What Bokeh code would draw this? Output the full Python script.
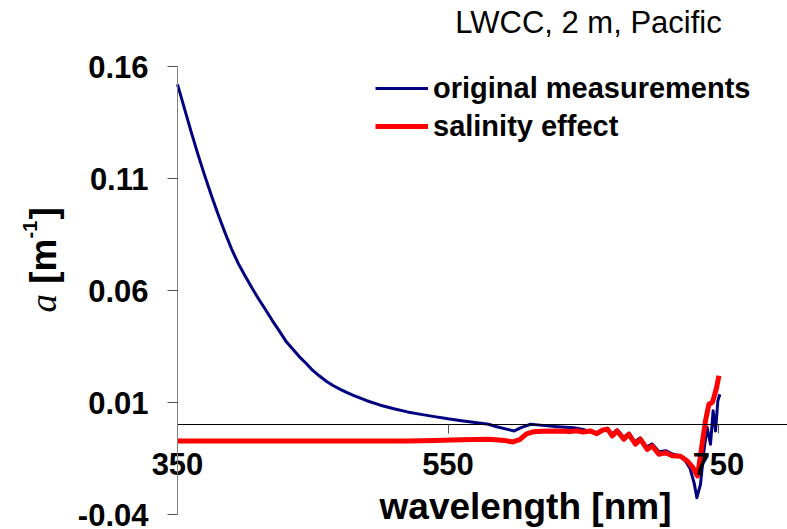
import math
from bokeh.plotting import figure
from bokeh.models import (LinearAxis, FixedTicker, Label, Legend, LegendItem, Range1d)
from bokeh.embed import file_html
from bokeh.resources import INLINE

# ---- data ----
wl_orig = [350, 355, 360, 365, 370, 375, 380, 385, 390, 395,
           400, 405, 410, 415, 420, 425, 430, 435, 440, 445,
           450, 455, 460, 465, 470, 475, 480, 490, 500, 510,
           520, 530, 540, 550, 560, 570, 580, 586, 594, 599,
           604, 611, 618, 631, 643,
           650, 655, 660, 664, 668, 671, 675, 680, 684, 688,
           692, 697, 701, 706, 711, 716, 722, 726, 729, 732,
           734, 736.7, 739.2, 741.6, 744.1, 746, 747.8, 749.5, 751]
a_orig = [0.1520, 0.1415, 0.1310, 0.1210, 0.1115, 0.1025, 0.0940, 0.0860, 0.0785, 0.0720,
          0.0665, 0.0612, 0.0562, 0.0515, 0.0467, 0.0422, 0.0375, 0.0340, 0.0305, 0.0275,
          0.0243, 0.0218, 0.0195, 0.0176, 0.0160, 0.0145, 0.0132, 0.0108, 0.0088, 0.0072,
          0.0058, 0.0047, 0.0037, 0.0027, 0.0019, 0.0011, 0.0003, -0.0008, -0.0020, -0.0027,
          -0.0012, 0.0003, -0.0001, -0.0008, -0.0013,
          -0.0020, -0.0030, -0.0035, -0.0022, -0.0015, -0.0040, -0.0022, -0.0055, -0.0036, -0.0076,
          -0.0058, -0.0098, -0.0085, -0.0120, -0.0115, -0.0130, -0.0140, -0.0165, -0.0195, -0.0260,
          -0.0325, -0.0265, -0.0116, -0.0012, -0.0086, 0.0063, -0.0027, 0.0107, 0.0137]

wl_sal = [350, 520, 540, 560, 580, 592, 598, 603, 608, 613,
          620, 630, 640, 645, 650, 655, 660, 664, 668, 671.4,
          675, 680, 683.7, 688.6, 692.3, 697.3, 701, 705.9, 710.8, 715.8,
          721.9, 726.8, 731, 734.5, 737.9, 740.4, 742.9, 745.4, 746.6, 748.6,
          750.3]
a_sal = [-0.0072, -0.0072, -0.0070, -0.0066, -0.0064, -0.0070, -0.0076, -0.0066, -0.0040, -0.0031,
         -0.0028, -0.0027, -0.0030, -0.0026, -0.0032, -0.0027, -0.0039, -0.0024, -0.0019, -0.0049,
         -0.0027, -0.0064, -0.0042, -0.0086, -0.0064, -0.0109, -0.0094, -0.0131, -0.0124, -0.0138,
         -0.0140, -0.0160, -0.0190, -0.0228, -0.0086, 0.0018, 0.0092, 0.0100, 0.0122, 0.0167,
         0.0219]

x_ticks = [350, 550, 750]
x_tick_labels = ["350", "550", "750"]
y_ticks = [-0.04, 0.01, 0.06, 0.11, 0.16]
y_tick_labels = ["-0.04", "0.01", "0.06", "0.11", "0.16"]

series_names = ["original measurements", "salinity effect"]
title_text = "LWCC, 2 m, Pacific"
x_title = "wavelength [nm]"

SANS = "Liberation Sans"
SERIF = "Liberation Serif"

W, H = 787, 529
# plot box in pixels: y axis at px 177, 350..750 nm -> 177..718 px; -0.04..0.16 -> 514..66 px
PX_PER_NM = (718 - 177) / 400.0
PX_PER_UNIT = (514 - 66) / 0.20
x0 = x_ticks[0] - 177 / PX_PER_NM
x1 = x_ticks[0] + (W - 177) / PX_PER_NM
y1 = y_ticks[-1] + 66 / PX_PER_UNIT
y0 = y_ticks[0] - (H - 514) / PX_PER_UNIT

p = figure(width=W, height=H, output_backend="svg", toolbar_location=None, title=None,
           x_range=Range1d(x0, x1), y_range=Range1d(y0, y1),
           x_axis_location=None, y_axis_location=None,
           min_border_left=0, min_border_right=0, min_border_top=0, min_border_bottom=0)
p.outline_line_color = None
p.background_fill_color = "white"
p.border_fill_color = "white"
p.grid.visible = False

def style_axis(ax, tick_out, standoff, line_color):
    ax.axis_line_color = line_color
    ax.major_tick_line_color = "#505050"
    ax.major_tick_out = tick_out
    ax.major_tick_in = 0
    ax.minor_tick_out = 0
    ax.minor_tick_in = 0
    ax.major_label_standoff = standoff
    ax.major_label_text_font = SANS
    ax.major_label_text_font_style = "bold"
    ax.major_label_text_font_size = "31px"
    ax.major_label_text_color = "black"

yax = LinearAxis(fixed_location=x_ticks[0], ticker=FixedTicker(ticks=y_ticks),
                 bounds=(y_ticks[0], y_ticks[-1]))
yax.major_label_overrides = {t: l for t, l in zip(y_ticks, y_tick_labels)}
style_axis(yax, 10, 19, "#808080")
p.add_layout(yax, "left")

xax = LinearAxis(fixed_location=0, ticker=FixedTicker(ticks=x_ticks),
                 bounds=(x_ticks[0], x1))
xax.major_label_overrides = {t: l for t, l in zip(x_ticks, x_tick_labels)}
style_axis(xax, 9, 19, "black")
p.add_layout(xax, "below")

r1 = p.line(wl_orig, a_orig, line_color="#000080", line_width=3, line_join="round")
r2 = p.line(wl_sal, a_sal, line_color="#FF0000", line_width=5, line_join="round")

legend = Legend(items=[LegendItem(label=series_names[0], renderers=[r1]),
                       LegendItem(label=series_names[1], renderers=[r2])],
                location=(375, H - 143), glyph_width=53, glyph_height=34, label_height=34,
                label_standoff=5, spacing=4, padding=0, margin=0,
                border_line_color=None, background_fill_alpha=0,
                label_text_font=SANS, label_text_font_style="bold",
                label_text_font_size="29px", label_text_color="black")
p.add_layout(legend)

def lab(px, py, text, **kw):
    p.add_layout(Label(x=px, y=H - py, x_units="screen", y_units="screen", text=text, **kw))

# title
lab(588, 22, title_text, text_align="center", text_baseline="alphabetic",
    text_font=SANS, text_font_size="31px", text_color="black")
# x title
lab(525, 506, x_title, text_align="center", text_baseline="alphabetic",
    text_font=SANS, text_font_style="bold", text_font_size="37px", text_color="black")
# y title: a [m-1]
rot = math.pi / 2
lab(43, 312, "a", angle=rot, text_align="left", text_baseline="alphabetic",
    text_font=SERIF, text_font_style="italic", text_font_size="37px", text_color="black")
lab(43, 283.2, "[m", angle=rot, text_align="left", text_baseline="alphabetic",
    text_font=SANS, text_font_style="bold", text_font_size="37px", text_color="black")
lab(29, 238, "-1", angle=rot, text_align="left", text_baseline="alphabetic",
    text_font=SANS, text_font_style="bold", text_font_size="20px", text_color="black")
lab(43, 219, "]", angle=rot, text_align="left", text_baseline="alphabetic",
    text_font=SANS, text_font_style="bold", text_font_size="37px", text_color="black")

open("out.html", "w").write(file_html(p, INLINE))
